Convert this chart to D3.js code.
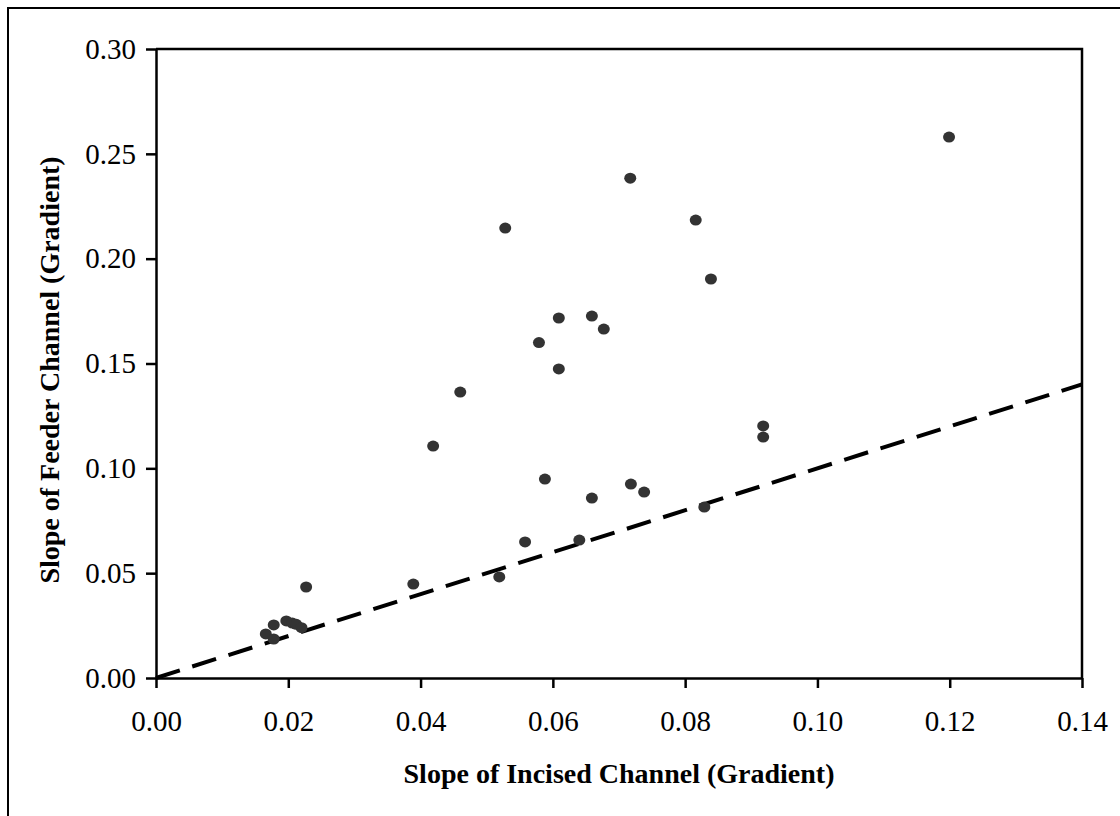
<!DOCTYPE html>
<html>
<head>
<meta charset="utf-8">
<script src="https://cdn.jsdelivr.net/npm/d3@7"></script>
<style>
  html, body { margin: 0; padding: 0; background: #fff; }
  svg { display: block; }
</style>
</head>
<body>
<svg id="chart" width="1120" height="816"></svg>
<script>
'use strict';

// Feeder vs incised channel slope, with 1:1 reference line (dashed).

const incisedSlope = [
  0.0166, 0.0178, 0.0178, 0.0197, 0.0206, 0.0212, 0.0220, 0.0227,
  0.0389, 0.0419, 0.0460, 0.0519, 0.0528, 0.0558, 0.0579, 0.0588,
  0.0609, 0.0609, 0.0640, 0.0659, 0.0677, 0.0659, 0.0717, 0.0718,
  0.0738, 0.0816, 0.0829, 0.0839, 0.0918, 0.0918, 0.1199
];
const feederSlope = [
  0.0210, 0.0253, 0.0186, 0.0272, 0.0262, 0.0256, 0.0240, 0.0434,
  0.0448, 0.1106, 0.1364, 0.0482, 0.2146, 0.0649, 0.1600, 0.0949,
  0.1717, 0.1474, 0.0658, 0.1726, 0.1664, 0.0858, 0.2384, 0.0925,
  0.0887, 0.2184, 0.0815, 0.1903, 0.1202, 0.1149, 0.2580
];
const oneToOne = [0, 0.14];
const xTicks = [0, 0.02, 0.04, 0.06, 0.08, 0.10, 0.12, 0.14];
const yTicks = [0, 0.05, 0.10, 0.15, 0.20, 0.25, 0.30];

const FONT = '"Liberation Serif", "Times New Roman", serif';
const PLOT = { left: 156, top: 49, right: 1082, bottom: 678 };

const svg = d3.select('#chart');

// outer chart border (runs off the bottom/right of the picture)
svg.append('rect')
  .attr('x', 8).attr('y', 8)
  .attr('width', 1130).attr('height', 830)
  .attr('fill', 'none').attr('stroke', '#000').attr('stroke-width', 2);

const x = d3.scaleLinear().domain([0, 0.14]).range([PLOT.left, PLOT.right]);
const y = d3.scaleLinear().domain([0, 0.30]).range([PLOT.bottom, PLOT.top]);

const fmt = d3.format('.2f');

const xAxis = svg.append('g')
  .attr('transform', `translate(0,${PLOT.bottom})`)
  .call(d3.axisBottom(x).tickValues(xTicks).tickFormat(fmt).tickSize(10).tickSizeOuter(0).tickPadding(22));

const yAxis = svg.append('g')
  .attr('transform', `translate(${PLOT.left},0)`)
  .call(d3.axisLeft(y).tickValues(yTicks).tickFormat(fmt).tickSize(10).tickSizeOuter(0).tickPadding(10));

[xAxis, yAxis].forEach((g) => {
  g.selectAll('path.domain').attr('stroke', '#000').attr('stroke-width', 2.5);
  g.selectAll('.tick line').attr('stroke', '#000').attr('stroke-width', 2.5);
  g.selectAll('.tick text')
    .attr('fill', '#000')
    .style('font-family', FONT)
    .style('font-size', '29px');
});

// top and right frame edges
svg.append('path')
  .attr('d', `M${PLOT.left},${PLOT.top}H${PLOT.right}V${PLOT.bottom}`)
  .attr('fill', 'none').attr('stroke', '#000').attr('stroke-width', 2.5);

// 1:1 line
svg.append('line')
  .attr('x1', x(oneToOne[0])).attr('y1', y(oneToOne[0]))
  .attr('x2', x(oneToOne[1])).attr('y2', y(oneToOne[1]))
  .attr('stroke', '#000').attr('stroke-width', 4)
  .attr('stroke-dasharray', '25,13');

// observations
svg.append('g')
  .selectAll('ellipse')
  .data(incisedSlope.map((v, i) => [v, feederSlope[i]]))
  .join('ellipse')
  .attr('cx', (d) => x(d[0]))
  .attr('cy', (d) => y(d[1]))
  .attr('rx', 6)
  .attr('ry', 5.5)
  .attr('fill', '#333');

// axis titles
svg.append('text')
  .attr('x', (PLOT.left + PLOT.right) / 2)
  .attr('y', 783)
  .attr('text-anchor', 'middle')
  .style('font-family', FONT)
  .style('font-size', '28px')
  .style('font-weight', 'bold')
  .text('Slope of Incised Channel (Gradient)');

svg.append('text')
  .attr('transform', `translate(59,370) rotate(-90)`)
  .attr('text-anchor', 'middle')
  .style('font-family', FONT)
  .style('font-size', '28px')
  .style('font-weight', 'bold')
  .text('Slope of Feeder Channel (Gradient)');
</script>
</body>
</html>
